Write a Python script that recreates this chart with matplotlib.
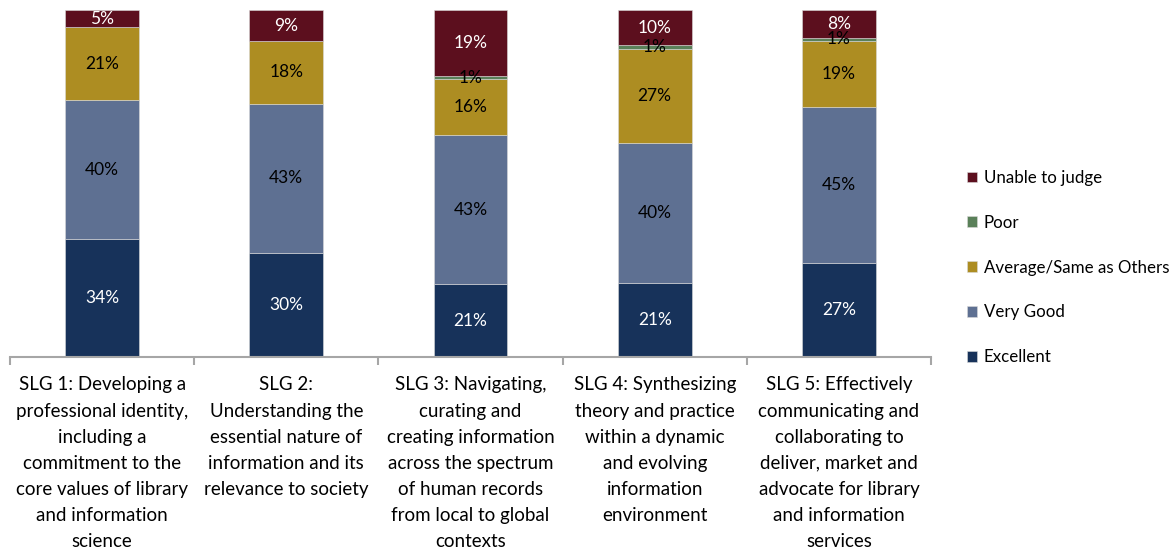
import matplotlib.pyplot as plt
import numpy as np

categories = [
    "SLG 1: Developing a\nprofessional identity,\nincluding a\ncommitment to the\ncore values of library\nand information\nscience",
    "SLG 2:\nUnderstanding the\nessential nature of\ninformation and its\nrelevance to society",
    "SLG 3: Navigating,\ncurating and\ncreating information\nacross the spectrum\nof human records\nfrom local to global\ncontexts",
    "SLG 4: Synthesizing\ntheory and practice\nwithin a dynamic\nand evolving\ninformation\nenvironment",
    "SLG 5: Effectively\ncommunicating and\ncollaborating to\ndeliver, market and\nadvocate for library\nand information\nservices",
]

series_names = ["Excellent", "Very Good", "Average/Same as Others", "Poor", "Unable to judge"]
excellent = [34, 30, 21, 21, 27]
very_good = [40, 43, 43, 40, 45]
average = [21, 18, 16, 27, 19]
poor = [0, 0, 1, 1, 1]
unable = [5, 9, 19, 10, 8]

colors = ["#17325A", "#5E7092", "#AD8D22", "#5A8059", "#5C0F1E"]
label_colors = ["white", "black", "black", "black", "white"]

plt.rcParams["font.family"] = ["Lato", "DejaVu Sans"]

fig = plt.figure(figsize=(11.74, 5.55), dpi=100)
ax = fig.add_axes([10 / 1174, 1 - 357 / 555, (931 - 10) / 1174, 347 / 555])

data = np.array([excellent, very_good, average, poor, unable], dtype=float)
totals = data.sum(axis=0)
pct = data / totals * 100

x = np.arange(len(categories))
bottom = np.zeros(len(categories))
handles = []
for i, name in enumerate(series_names):
    bars = ax.bar(x, pct[i], 0.4, bottom=bottom, color=colors[i],
                  edgecolor="#D9D9D9", linewidth=0.4, label=name)
    handles.append(bars)
    for j, v in enumerate(data[i]):
        if v > 0:
            ax.text(x[j], bottom[j] + pct[i][j] / 2, f"{int(v)}%",
                    ha="center", va="center", fontsize=12.5, color=label_colors[i])
    bottom += pct[i]

ax.set_xlim(-0.5, 4.5)
ax.set_ylim(0, 100)
ax.set_yticks([])
for s in ["top", "right", "left"]:
    ax.spines[s].set_visible(False)
ax.spines["bottom"].set_color("#A6A6A6")
ax.spines["bottom"].set_linewidth(1.5)

ax.set_xticks(x)
ax.set_xticklabels(categories, fontsize=13.5, linespacing=1.65)
ax.tick_params(axis="x", which="major", length=0, pad=14)
ax.set_xticks(np.arange(-0.5, 5, 1), minor=True)
ax.tick_params(axis="x", which="minor", length=6, width=1.5, color="#A6A6A6")

fig.legend(handles[::-1], series_names[::-1], loc="center left",
           bbox_to_anchor=(967 / 1174, 1 - 267.5 / 555), frameon=False,
           fontsize=12.2, handlelength=0.6, handleheight=0.6, handletextpad=0.4,
           labelspacing=1.7, borderpad=0, borderaxespad=0)

fig.savefig("out.png", dpi=100)
